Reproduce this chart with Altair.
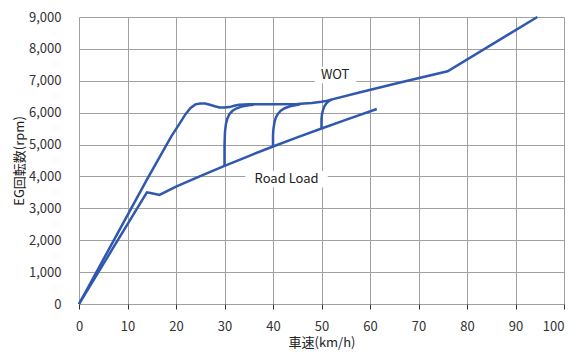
import altair as alt
import pandas as pd

# WOT curve (vehicle speed km/h, engine rpm)
wot_v = [0, 7, 14, 19, 21, 22, 23, 24, 25, 26, 27, 28, 29, 30, 31, 32, 33, 34, 35, 40, 45, 48, 50, 51, 52, 58, 66, 76, 94.5]
wot_r = [0, 1950, 3900, 5250, 5720, 5960, 6150, 6260, 6290, 6290, 6250, 6200, 6165, 6160, 6175, 6215, 6245, 6258, 6262, 6265, 6270, 6300, 6340, 6370, 6410, 6640, 6940, 7300, 9000]

# Road load curve
rl_v = [0, 7, 14, 15, 16.6, 20, 25, 30, 35, 40, 45, 50, 55, 61.4]
rl_r = [0, 1750, 3500, 3470, 3420, 3680, 4010, 4330, 4640, 4940, 5225, 5505, 5775, 6115]

# Kick-down transients at 30, 40, 50 km/h
k30_v = [30, 30, 30.1, 30.3, 30.6, 31, 31.6, 32.4, 33.5, 35, 36]
k30_r = [4330, 5000, 5400, 5650, 5820, 5950, 6050, 6130, 6190, 6235, 6250]
k40_v = [40, 40, 40.1, 40.3, 40.6, 41, 41.6, 42.4, 43.5, 45.6]
k40_r = [4940, 5300, 5500, 5700, 5850, 5960, 6060, 6140, 6200, 6260]
k50_v = [50, 50, 50.1, 50.3, 50.6, 51, 51.5, 52.2]
k50_r = [5505, 5800, 5950, 6080, 6200, 6290, 6360, 6420]

x_ticks = [0, 10, 20, 30, 40, 50, 60, 70, 80, 90, 100]
y_ticks = [0, 1000, 2000, 3000, 4000, 5000, 6000, 7000, 8000, 9000]

labels = ["WOT", "Road Load"]
label_v = [52.8, 42.8]
label_r = [7180, 3910]
box_v1 = [48.6, 34.3]
box_v2 = [57.2, 51.3]
box_r1 = [6920, 3650]
box_r2 = [7440, 4170]

rows = []
for name, vs, rs in [("WOT", wot_v, wot_r), ("RL", rl_v, rl_r),
                     ("K30", k30_v, k30_r), ("K40", k40_v, k40_r), ("K50", k50_v, k50_r)]:
    for i, (v, r) in enumerate(zip(vs, rs)):
        rows.append({"series": name, "v": v, "rpm": r, "order": i})
df = pd.DataFrame(rows)

lab = pd.DataFrame({"label": labels, "v": label_v, "rpm": label_r,
                    "v1": box_v1, "v2": box_v2, "r1": box_r1, "r2": box_r2})

FONT = "Noto Sans CJK JP"
LINE = "#3058B0"

xs = alt.Scale(domain=[0, 100], nice=False)
ys = alt.Scale(domain=[0, 9000], nice=False)

xaxis = alt.Axis(values=x_ticks, title="車速(km/h)", format="d", grid=True,
                 gridColor="#a0a0a0", gridWidth=1, domain=False, tickColor="#333",
                 tickSize=5, labelPadding=11, labelFontSize=13, labelColor="#333",
                 titleFontSize=13, titleFontWeight="normal", titleColor="#222",
                 titlePadding=3, labelFont=FONT, titleFont=FONT,
                 labelAlign=alt.ExprRef(expr="datum.value == 100 ? 'right' : 'center'"),
                 labelFlush=False)
yaxis = alt.Axis(values=y_ticks, title="EG回転数(rpm)", format=",d", grid=True,
                 gridColor="#a0a0a0", gridWidth=1, domain=False, tickColor="#333",
                 tickSize=0, labelPadding=18, labelFontSize=13, labelColor="#333",
                 titleFontSize=13, titleFontWeight="normal", titleColor="#222",
                 titlePadding=2, labelFont=FONT, titleFont=FONT, labelFlush=False)

X = lambda f: alt.X(f, scale=xs, axis=xaxis)
Y = lambda f: alt.Y(f, scale=ys, axis=yaxis)

boxes = alt.Chart(lab).mark_rect(color="white").encode(
    x=X("v1:Q"), x2="v2", y=Y("r1:Q"), y2="r2")

lines = alt.Chart(df).mark_line(color=LINE, strokeWidth=2.5).encode(
    x=X("v:Q"), y=Y("rpm:Q"), detail="series:N", order="order:Q")

texts = alt.Chart(lab).mark_text(font=FONT, fontSize=13, color="#222").encode(
    x=X("v:Q"), y=Y("rpm:Q"), text="label:N")

chart = alt.layer(boxes, lines, texts).properties(
    width=485, height=287,
    autosize=alt.AutoSizeParams(type="none"),
    padding={"left": 71, "top": 9, "right": 4, "bottom": 48},
).configure_view(stroke="#222", strokeWidth=1.5).configure(background="white")

chart.save("out.html", embed_options={"renderer": "svg", "actions": False})
